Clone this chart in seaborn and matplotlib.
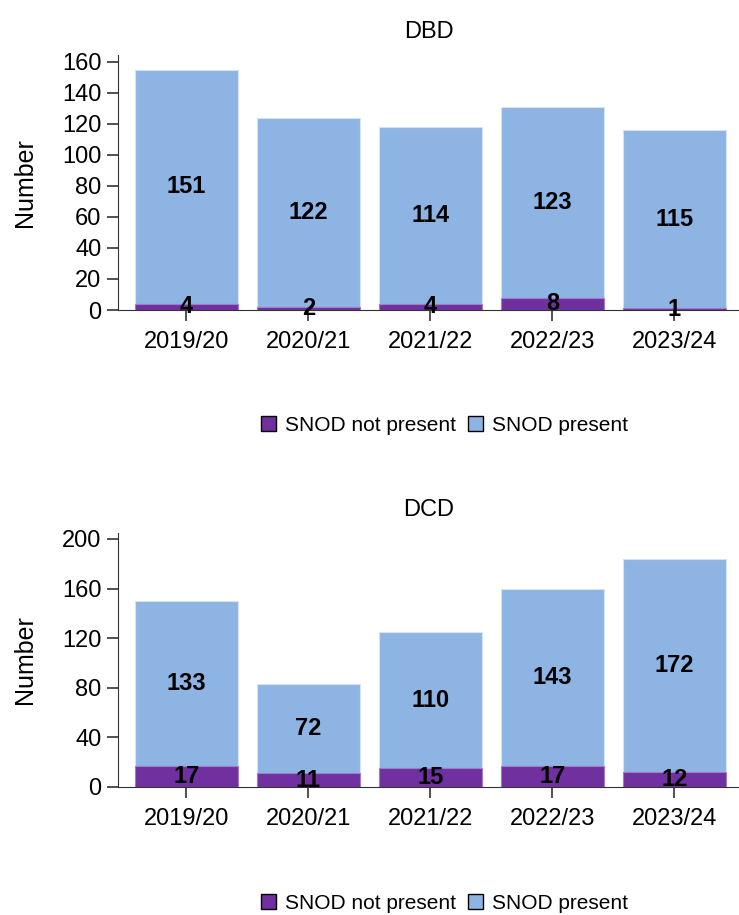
import pandas as pd
import seaborn as sns
import matplotlib.pyplot as plt
from matplotlib.patches import Patch

years = ['2019/20', '2020/21', '2021/22', '2022/23', '2023/24']
dbd_not_present = [4, 2, 4, 8, 1]
dbd_present = [151, 122, 114, 123, 115]
dcd_not_present = [17, 11, 15, 17, 12]
dcd_present = [133, 72, 110, 143, 172]

purple = '#7030a0'
blue = '#8eb4e3'

sns.set_style('ticks')
plt.rcParams['font.family'] = ['Liberation Sans', 'DejaVu Sans']
plt.rcParams['axes.edgecolor'] = '#333333'
plt.rcParams['text.color'] = 'black'
plt.rcParams['axes.labelcolor'] = 'black'
plt.rcParams['xtick.labelcolor'] = 'black'
plt.rcParams['ytick.labelcolor'] = 'black'

fig = plt.figure(figsize=(7.39, 9.15), dpi=100)

panels = [
    ('DBD', dbd_not_present, dbd_present, [0.1597, 0.6612, 0.8403, 0.2787], 164.5, range(0, 161, 20), 0.535),
    ('DCD', dcd_not_present, dcd_present, [0.1597, 0.1399, 0.8403, 0.2776], 204.8, range(0, 201, 40), 0.013),
]

for title, notp, pres, rect, ymax, yticks, leg_y in panels:
    ax = fig.add_axes(rect)
    df = pd.DataFrame({'year': years, 'not_present': notp, 'present': pres})
    df['total'] = df['not_present'] + df['present']

    sns.barplot(data=df, x='year', y='total', color=blue, width=0.84,
                saturation=1, edgecolor='#d6e3f4', linewidth=0.8, ax=ax)
    sns.barplot(data=df, x='year', y='not_present', color=purple, width=0.84,
                saturation=1, edgecolor='#a07cc4', linewidth=0.8, ax=ax)

    for i, row in df.iterrows():
        ax.text(i, row['not_present'] + row['present'] / 2, str(row['present']),
                ha='center', va='center', fontsize=17, fontweight='bold')
        ax.text(i, row['not_present'] / 2, str(row['not_present']),
                ha='center', va='center', fontsize=17, fontweight='bold')

    ax.set_xlim(-0.56, 4.53)
    ax.set_ylim(0, ymax)
    ax.set_yticks(list(yticks))
    ax.set_xlabel('')
    ax.set_ylabel('Number', fontsize=18, labelpad=18)
    ax.set_title(title, fontsize=17, pad=12)
    ax.tick_params(axis='both', labelsize=17, length=8, width=1.2, color='#333333')
    ax.tick_params(axis='y', pad=4)
    ax.tick_params(axis='x', pad=7)
    sns.despine(ax=ax)

    handles = [Patch(facecolor=purple, edgecolor='black', label='SNOD not present'),
               Patch(facecolor=blue, edgecolor='black', label='SNOD present')]
    fig.legend(handles=handles, loc='center', bbox_to_anchor=(0.602, leg_y), ncol=2,
               frameon=False, fontsize=15, handlelength=0.72, handleheight=0.72,
               handletextpad=0.43, columnspacing=0.57)

fig.savefig('out.png', dpi=100)
